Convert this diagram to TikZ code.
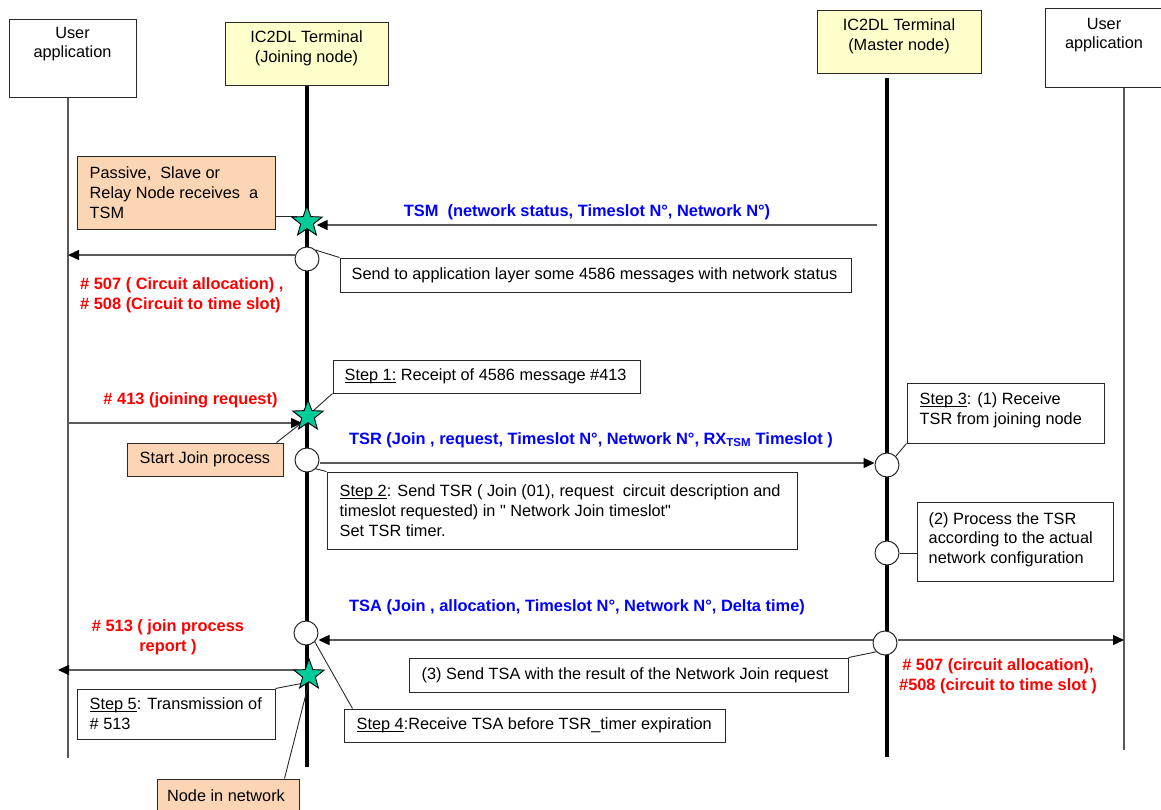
\documentclass[tikz,border=0pt]{standalone}
\usepackage{fontspec}
\setmainfont{Liberation Sans}
\usetikzlibrary{shapes.geometric,arrows.meta,calc}
\pgfdeclarelayer{lines}
\pgfsetlayers{lines,main}
\definecolor{peach}{RGB}{252,213,180}
\definecolor{termyellow}{RGB}{255,255,204}
\definecolor{stargreen}{RGB}{0,204,153}
\definecolor{edge}{RGB}{40,40,40}
\definecolor{lifegray}{RGB}{90,90,90}
\definecolor{msgblue}{RGB}{0,0,255}
\definecolor{msgred}{RGB}{255,0,0}
\newcommand\ftxt{\fontsize{16.3}{19.7}\selectfont}
\newcommand\fmsg{\fontsize{16.4}{19.7}\selectfont\bfseries}
% underline drawn close to the baseline, through the descenders
\newcommand\steplabel[1]{\underline{\smash{#1}}}
\begin{document}
\begin{tikzpicture}[x=1pt,y=-1pt,
  box/.style={draw=edge, line width=1pt, fill=white, inner sep=0pt},
  peachbox/.style={box, fill=peach},
  termbox/.style={box, fill=termyellow},
  txt/.style={anchor=west, align=left, inner sep=0pt, font=\ftxt},
  ctxt/.style={align=center, inner sep=0pt, font=\ftxt},
  bluelbl/.style={inner sep=0pt, font=\fmsg, text=msgblue},
  redlbl/.style={inner sep=0pt, font=\fmsg, text=msgred},
  thinlife/.style={draw=lifegray, line width=1.4pt},
  thicklife/.style={draw=black, line width=4pt},
  callout/.style={draw=edge, line width=0.9pt},
  msg/.style={draw=lifegray, line width=1.4pt, -{Triangle[length=11pt,width=10pt,color=black]}},
  event/.style={circle, draw=edge, line width=1pt, fill=white, minimum size=24pt, inner sep=0pt},
  mark5/.style={star, star points=5, star point ratio=2.4, draw=black, line width=0.9pt,
                fill=stargreen, minimum size=32pt, inner sep=0pt}
]
\useasboundingbox (0,0) rectangle (1161,809);

% ---- actor heads
\node[box, minimum width=127pt, minimum height=78pt] (ua1) at (72.5,58) {};
\node[ctxt] (ua1t) at (72.5,44) {User\\application};
\node[termbox, minimum width=163pt, minimum height=63pt] (jn) at (306.5,53.5) {};
\node[ctxt] (jnt) at (306.5,48) {IC2DL Terminal\\(Joining node)};
\node[termbox, minimum width=164pt, minimum height=63pt] (mn) at (899,41.5) {};
\node[ctxt] (mnt) at (899,36) {IC2DL Terminal\\(Master node)};
\node[box, minimum width=126pt, minimum height=79pt] (ua2) at (1108,47.5) {};
\node[ctxt] (ua2t) at (1104,35) {User\\application};

% ---- event markers on the lifelines
\node[mark5] (s1) at (307,222) {};
\node[event] (c1) at (307,259) {};
\node[mark5] (s2) at (308,416) {};
\node[event] (c2) at (307,460) {};
\node[event] (c3) at (887,465) {};
\node[event] (c4) at (887,553) {};
\node[event] (c5) at (885,643) {};
\node[event] (c6) at (306,633) {};
\node[mark5] (s3) at (309,675) {};

% ---- note boxes
\node[peachbox, minimum width=198pt, minimum height=73pt] (pas) at (176,192.5) {};
\node[box, minimum width=511pt, minimum height=34pt] (snd) at (595.5,275) {};
\node[box, minimum width=307pt, minimum height=33pt] (st1) at (486.5,376.5) {};
\node[peachbox, minimum width=156pt, minimum height=33pt] (sjp) at (205,459.5) {};
\node[box, minimum width=470pt, minimum height=77pt] (st2) at (562,510.5) {};
\node[box, minimum width=197pt, minimum height=60pt] (st3) at (1005.5,413) {};
\node[box, minimum width=196pt, minimum height=79pt] (pr) at (1015,541.5) {};
\node[box, minimum width=439pt, minimum height=34pt] (b3) at (628.5,675) {};
\node[box, minimum width=198pt, minimum height=50pt] (st5) at (176,714) {};
\node[box, minimum width=381pt, minimum height=33pt] (st4) at (534.5,725.5) {};
\node[peachbox, minimum width=142pt, minimum height=36pt] (nin) at (228,797) {};

% ---- lifelines, callouts and messages go underneath the markers and boxes
\coordinate (l1end) at (68,758);
\coordinate (l2end) at (307,767);
\coordinate (l3top) at (887,78);
\coordinate (l3end) at (887,757);
\coordinate (l4end) at (1124,750);
\coordinate (tsmsrc) at (877,225);
\coordinate (req413) at (68,423);
\coordinate (rep513) at (58,670);
\begin{pgfonlayer}{lines}
\fill[white] (0,0) rectangle (1161,809);
\draw[thinlife] (ua1.south -| l1end) -- (l1end);
\draw[thicklife] (jn.south -| l2end) -- (l2end);
\draw[thicklife] (l3top) -- (l3end);
\draw[thinlife] (ua2.south -| l4end) -- (l4end);

\draw[callout] ([yshift=-23.5pt]pas.east) -- ([yshift=-23.5pt]pas.east -| s1.west);
\draw[callout] (c1.north east) -- (snd.north west);
\draw[callout] (st1.south west) -- (s2.north east);
\draw[callout] ([xshift=-7pt]sjp.north east) -- (s2.south west);
\draw[callout] (c2.south east) -- (st2.north west);
\draw[callout] (st3.south west) -- (c3.north east);
\draw[callout] (c4.east) -- (c4 -| pr.west);
\draw[callout] (b3.north east) -- (c5.south west);
\draw[callout] (st5.north east) -- (s3.south west);
\draw[callout] ([xshift=9pt]st4.north west) -- (c6.south east);
\draw[callout] ([xshift=-15pt]nin.north east) -- (s3.south);

\draw[msg] (tsmsrc) -- (tsmsrc -| s1.east);
\draw[msg] ([yshift=4pt]c1.west) -- ([yshift=4pt]c1.west -| l1end);
\draw[msg] (req413) -- ([xshift=-6pt]req413 -| s2);
\draw[msg] ([yshift=-3pt]c2.east) -- ([yshift=-3pt]c2.east -| c3.west);
\draw[msg] ([yshift=3pt]c5.east) -- ([yshift=3pt]c5.east -| l4end);
\draw[msg] ([yshift=3pt]c5.west) -- ([yshift=3pt]c5.west -| c6.east);
\draw[msg] ([xshift=-12pt]rep513 -| s3) -- (rep513);
\end{pgfonlayer}

% ---- note texts
\node[txt] (past) at ([xshift=13pt]pas.west) {Passive,\ \ Slave or\\Relay Node receives\ \ a\\TSM};
\node[txt] (sndt) at ([xshift=12pt]snd.west) {Send to application layer some 4586 messages with network status};
\node[txt] (st1t) at ([xshift=12pt]st1.west) {\steplabel{Step 1:} Receipt of 4586 message \#413};
\node[txt] (sjpt) at ([xshift=13pt]sjp.west) {Start Join process};
\node[txt] (st2t) at ([xshift=13pt]st2.west) {\steplabel{Step 2}: Send TSR ( Join (01), request\ \ circuit description and\\timeslot requested) in \textquotedbl\ Network Join timeslot\textquotedbl\\Set TSR timer.};
\node[txt] (st3t) at ([xshift=13pt,yshift=3pt]st3.west) {\steplabel{Step 3}: (1) Receive\\TSR from joining node};
\node[txt] (prt) at ([xshift=12pt,yshift=2pt]pr.west) {(2) Process the TSR\\according to the actual\\network configuration};
\node[txt] (b3t) at ([xshift=13pt]b3.west) {(3) Send TSA with the result of the Network Join request};
\node[txt] (st5t) at ([xshift=13pt]st5.west) {\steplabel{Step 5}: Transmission of\\\# 513};
\node[txt] (st4t) at ([xshift=13pt]st4.west) {\steplabel{Step 4}:Receive TSA before TSR\_timer expiration};
\node[ctxt] (nint) at (226,796) {Node in network};

% ---- message labels
\node[bluelbl] (tsml) at (587,212) {TSM\ \ (network status, Timeslot N°, Network N°)};
\node[bluelbl] (tsrl) at (591,440) {TSR (Join , request, Timeslot N°, Network N°, RX\textsubscript{TSM} Timeslot )};
\node[bluelbl] (tsal) at (577,607) {TSA (Join , allocation, Timeslot N°, Network N°, Delta time)};
\node[redlbl, anchor=west, align=left] (r507a) at (80,295) {\# 507 ( Circuit allocation) ,\\\# 508 (Circuit to time slot)};
\node[redlbl] (r413) at (190.5,400) {\# 413 (joining request)};
\node[redlbl, align=center] (r513) at (168,637) {\# 513 ( join process\\report )};
\node[redlbl, align=center] (r507b) at (998,676) {\# 507 (circuit allocation),\\\#508 (circuit to time slot )};
\end{tikzpicture}
\end{document}
